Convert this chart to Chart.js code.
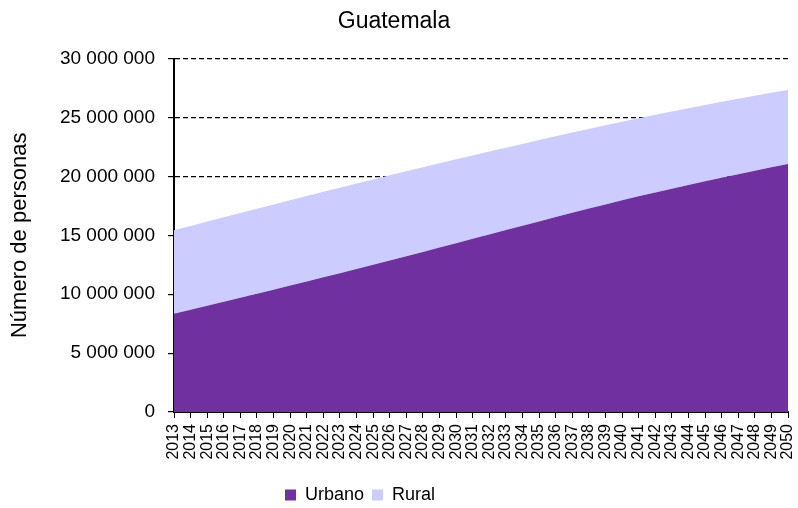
<!DOCTYPE html>
<html>
<head>
<meta charset="utf-8">
<script src="https://cdn.jsdelivr.net/npm/chart.js"></script>
<style>
  html, body { margin: 0; padding: 0; background: #fff; }
  #wrap { width: 798px; height: 508px; }
</style>
</head>
<body>
<div id="wrap"><canvas id="chart" width="798" height="508"></canvas></div>
<script>
// years on the x axis
const years = [
  '2013','2014','2015','2016','2017','2018','2019','2020','2021','2022',
  '2023','2024','2025','2026','2027','2028','2029','2030','2031','2032',
  '2033','2034','2035','2036','2037','2038','2039','2040','2041','2042',
  '2043','2044','2045','2046','2047','2048','2049','2050'
];

// urban population (persons)
const urbano = [
  8350000, 8680000, 9020000, 9360000, 9700000, 10040000, 10380000, 10730000, 11080000, 11430000,
  11780000, 12140000, 12500000, 12860000, 13220000, 13590000, 13960000, 14330000, 14700000, 15070000,
  15440000, 15810000, 16180000, 16550000, 16910000, 17270000, 17620000, 17970000, 18310000, 18640000,
  18960000, 19280000, 19590000, 19890000, 20190000, 20480000, 20770000, 21060000
];

// rural population (persons), stacked on top of urbano
const rural = [
  7080000, 7120000, 7150000, 7180000, 7200000, 7220000, 7240000, 7250000, 7260000, 7260000,
  7260000, 7250000, 7240000, 7230000, 7210000, 7180000, 7150000, 7120000, 7080000, 7040000,
  7000000, 6950000, 6900000, 6850000, 6810000, 6760000, 6720000, 6670000, 6630000, 6590000,
  6550000, 6510000, 6470000, 6440000, 6400000, 6370000, 6330000, 6280000
];

const yMax = 30000000;
const yStep = 5000000;

function fmtSpaces(v) {
  return String(v).replace(/\B(?=(\d{3})+(?!\d))/g, ' ');
}

Chart.defaults.font.family = '"Liberation Sans", Arial, sans-serif';
Chart.defaults.color = '#000';

// the legend in the original sits a bit left of centre
const legendShift = {
  id: 'legendShift',
  afterLayout(chart) {
    if (chart.legend) chart.legend.right -= 68;
  }
};

const ctx = document.getElementById('chart').getContext('2d');
new Chart(ctx, {
  type: 'line',
  data: {
    labels: years,
    datasets: [
      {
        label: 'Urbano',
        data: urbano,
        backgroundColor: '#7030A0',
        borderColor: '#7030A0',
        borderWidth: 0,
        pointRadius: 0,
        fill: 'origin',
        tension: 0
      },
      {
        label: 'Rural',
        data: rural,
        backgroundColor: '#CCCCFF',
        borderColor: '#CCCCFF',
        borderWidth: 0,
        pointRadius: 0,
        fill: '-1',
        tension: 0
      }
    ]
  },
  plugins: [legendShift],
  options: {
    responsive: false,
    animation: false,
    layout: { padding: { left: 0, right: 10, top: 0, bottom: -6 } },
    plugins: {
      tooltip: { enabled: false },
      title: {
        display: true,
        text: 'Guatemala',
        font: { size: 23, weight: 'normal' },
        padding: { top: 8, bottom: 23 }
      },
      legend: {
        position: 'bottom',
        labels: {
          boxWidth: 11,
          boxHeight: 11,
          padding: 8,
          font: { size: 18 }
        }
      }
    },
    scales: {
      x: {
        offset: false,
        grid: {
          display: true,
          drawOnChartArea: false,
          drawTicks: true,
          tickLength: 6,
          tickColor: '#000',
          tickWidth: 1
        },
        border: { display: true, color: '#000', width: 2 },
        ticks: {
          autoSkip: false,
          minRotation: 90,
          maxRotation: 90,
          padding: 6,
          font: { size: 16 }
        },
        afterFit(scale) {
          scale.height = 66;
          scale.paddingLeft = 0;
          scale.paddingRight = 0;
        }
      },
      y: {
        stacked: true,
        min: 0,
        max: yMax,
        grid: {
          color: '#000',
          lineWidth: 1.2,
          drawTicks: true,
          tickLength: 6,
          tickColor: '#000',
          tickBorderDash: []
        },
        border: { display: true, color: '#000', width: 2, dash: [5, 3] },
        ticks: {
          stepSize: yStep,
          padding: 13,
          font: { size: 19 },
          callback: v => fmtSpaces(v)
        },
        title: {
          display: true,
          text: 'Número de personas',
          font: { size: 22 },
          padding: { top: 7, bottom: 4 }
        },
        afterFit(scale) { scale.width = 174; }
      }
    }
  }
});
</script>
</body>
</html>
